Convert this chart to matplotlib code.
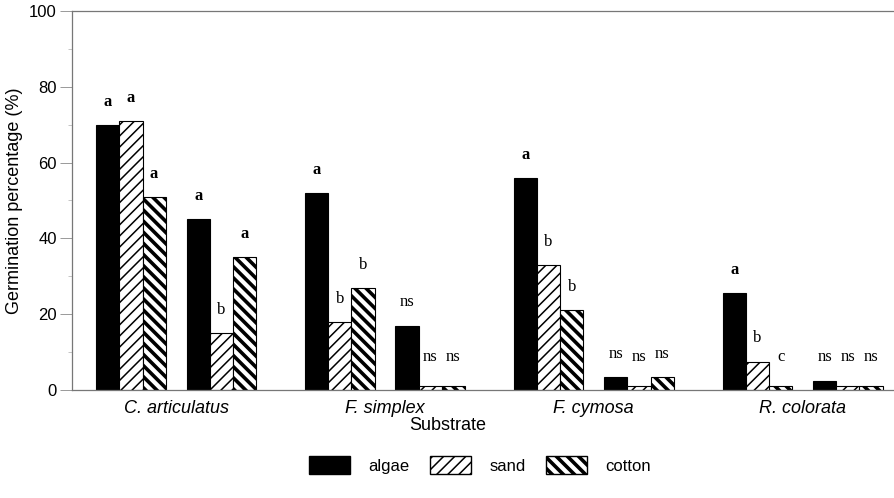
import numpy as np
import matplotlib
matplotlib.use("Agg")
from matplotlib import pyplot as plt
from matplotlib.patches import Patch

species = ["C. articulatus", "F. simplex", "F. cymosa", "R. colorata"]
treatments = ["algae", "sand", "cotton"]

# two sets of bars per species, values in %
algae = [[70, 45], [52, 17], [56, 3.5], [25.5, 2.5]]
sand = [[71, 15], [18, 1], [33, 1], [7.5, 1]]
cotton = [[51, 35], [27, 1], [21, 3.5], [1, 1]]

# significance letters
algae_sig = [["a", "a"], ["a", "ns"], ["a", "ns"], ["a", "ns"]]
sand_sig = [["a", "b"], ["b", "ns"], ["b", "ns"], ["b", "ns"]]
cotton_sig = [["a", "a"], ["b", "ns"], ["b", "ns"], ["c", "ns"]]

GROUP_STEP = 9.0
SET_STEP = 3.9
BAR_W = 1.0
HATCH_LW = [1.0, 1.1, 2.6]

plt.rcParams["font.family"] = ["Liberation Sans", "DejaVu Sans"]

fig = plt.figure(figsize=(8.94, 4.98), dpi=100)
ax = fig.add_axes([0.0805, 0.2169, 0.925, 0.761])

styles = [
    dict(color="black", hatch=None),
    dict(color="white", hatch="///"),
    dict(color="white", hatch="\\\\\\"),
]
values = [algae, sand, cotton]
sigs = [algae_sig, sand_sig, cotton_sig]

for k, (vals, sig, st) in enumerate(zip(values, sigs, styles)):
    vals = np.array(vals)
    xs = []
    hs = []
    labs = []
    for g in range(len(species)):
        for s in range(2):
            xs.append(g * GROUP_STEP + s * SET_STEP + k * BAR_W)
            hs.append(vals[g, s])
            labs.append(sig[g][s])
    with plt.rc_context({"hatch.linewidth": HATCH_LW[k]}):
        ax.bar(xs, hs, width=BAR_W, align="edge", color=st["color"],
               edgecolor="black", hatch=st["hatch"], linewidth=0.8)
    for x, h, lab in zip(xs, hs, labs):
        ax.text(x + BAR_W / 2, max(h, 2.5) + 4.0, lab, ha="center", va="bottom",
                fontsize=12, family=["Liberation Serif", "DejaVu Serif"],
                fontweight="bold" if lab == "a" else "normal")

ax.set_xlim(-1.04, 34.6)
ax.set_ylim(0, 100)
ax.set_yticks(np.arange(0, 101, 20))
ax.set_yticks(np.arange(10, 100, 20), minor=True)
ax.tick_params(axis="y", which="major", length=9, width=0.7, color="#999999",
               labelsize=12, pad=2)
ax.tick_params(axis="y", which="minor", length=3, width=0.6, color="#bbbbbb")

centers = [g * GROUP_STEP + (SET_STEP + 3 * BAR_W) / 2 for g in range(len(species))]
ax.set_xticks(centers)
ax.set_xticklabels(species, fontsize=13, style="italic")
ax.tick_params(axis="x", length=0, pad=7)

ax.set_ylabel("Germination percentage (%)", fontsize=13, labelpad=4)
ax.set_xlabel("Substrate", fontsize=13)
ax.xaxis.set_label_coords(0.454, -0.072)

for side in ["left", "bottom", "top"]:
    ax.spines[side].set_color("#777777")
    ax.spines[side].set_linewidth(0.9)
ax.spines["right"].set_visible(False)

handles = [Patch(facecolor="black", edgecolor="black"),
           Patch(facecolor="white", edgecolor="black", hatch="///"),
           Patch(facecolor="white", edgecolor="black", hatch="\\\\\\")]
leg = fig.legend(handles, treatments, loc="center", bbox_to_anchor=(0.537, 0.066),
                 ncol=3, frameon=False, fontsize=12, handlelength=2.46, handleheight=1.32,
                 handletextpad=1.08, columnspacing=1.26)
for hnd, lw in zip(leg.legend_handles, HATCH_LW):
    if hasattr(hnd, "set_hatch_linewidth"):
        hnd.set_hatch_linewidth(lw)

plt.savefig("out.png", dpi=100)
